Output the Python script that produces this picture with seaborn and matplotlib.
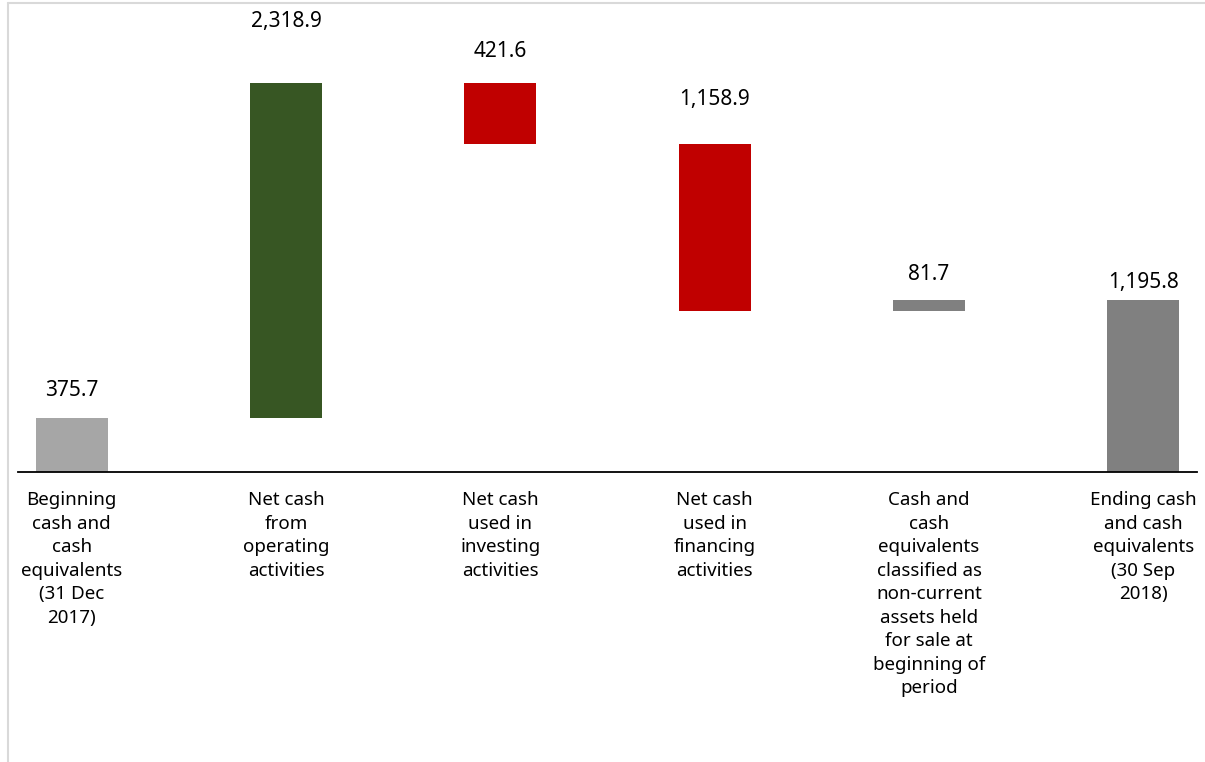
import matplotlib
matplotlib.use("Agg")
import matplotlib.pyplot as plt
from matplotlib import font_manager
from matplotlib.lines import Line2D
import seaborn as sns
import numpy as np
import pandas as pd

# ---- data ----
categories = [
    "Beginning\ncash and\ncash\nequivalents\n(31 Dec\n2017)",
    "Net cash\nfrom\noperating\nactivities",
    "Net cash\nused in\ninvesting\nactivities",
    "Net cash\nused in\nfinancing\nactivities",
    "Cash and\ncash\nequivalents\nclassified as\nnon-current\nassets held\nfor sale at\nbeginning of\nperiod",
    "Ending cash\nand cash\nequivalents\n(30 Sep\n2018)",
]
changes = [375.7, 2318.9, -421.6, -1158.9, 81.7, 1195.8]
is_total = [True, False, False, False, False, True]
bar_colors = ["#a6a6a6", "#375623", "#c00000", "#c00000", "#808080", "#808080"]
label_offsets_px = [27, 62, 32, 45, 25, 17]

# ---- waterfall geometry (derived from data) ----
bases, heights = [], []
running = 0.0
for v, tot in zip(changes, is_total):
    if tot:
        bases.append(0.0)
        heights.append(v)
        running = v
    else:
        if v >= 0:
            bases.append(running)
            heights.append(v)
        else:
            bases.append(running + v)
            heights.append(-v)
        running += v

df = pd.DataFrame({"category": categories, "height": heights, "base": bases})

# ---- font ----
sns.set_theme(style="white")
avail = {f.name for f in font_manager.fontManager.ttflist}
fam = "DejaVu Sans Condensed" if "DejaVu Sans Condensed" in avail else "Noto Sans"
plt.rcParams["font.family"] = [fam, "DejaVu Sans"]

fig = plt.figure(figsize=(12.05, 7.62), dpi=100)
W, H = 1205, 762
ax = fig.add_axes([18 / W, 1 - 472 / H, 1179 / W, 472 / H])

sns.barplot(data=df, x="category", y="height", bottom=df["base"].values,
            color="#808080", width=0.336, saturation=1, linewidth=0,
            order=categories, errorbar=None, ax=ax)
for patch, c in zip(ax.patches, bar_colors):
    patch.set_facecolor(c)
    patch.set_edgecolor("none")

ax.set_xlim(-0.25, 5.25)
ax.set_ylim(0, 472 / 0.1442)

for i, (v, b, h) in enumerate(zip(changes, bases, heights)):
    ax.annotate(f"{abs(v):,.1f}", xy=(i, b + h), xytext=(0, label_offsets_px[i]),
                textcoords="offset pixels", ha="center", va="center",
                fontsize=15, color="#000000", annotation_clip=False)

for s in ["top", "right", "left"]:
    ax.spines[s].set_visible(False)
ax.spines["bottom"].set_color("#000000")
ax.spines["bottom"].set_linewidth(1.3)
ax.set_yticks([])
ax.set_xlabel("")
ax.set_ylabel("")
ax.tick_params(axis="x", length=0, pad=14, labelsize=13.5, colors="#000000")
for t in ax.get_xticklabels():
    t.set_linespacing(1.39)
    t.set_verticalalignment("top")
ax.patch.set_alpha(0)

# light frame around the chart area
fig.add_artist(Line2D([8 / W, 8 / W], [0, 1 - 3 / H], color="#d9d9d9", lw=1.5))
fig.add_artist(Line2D([8 / W, 1], [1 - 3 / H, 1 - 3 / H], color="#d9d9d9", lw=1.5))

fig.savefig("out.png", dpi=100)
